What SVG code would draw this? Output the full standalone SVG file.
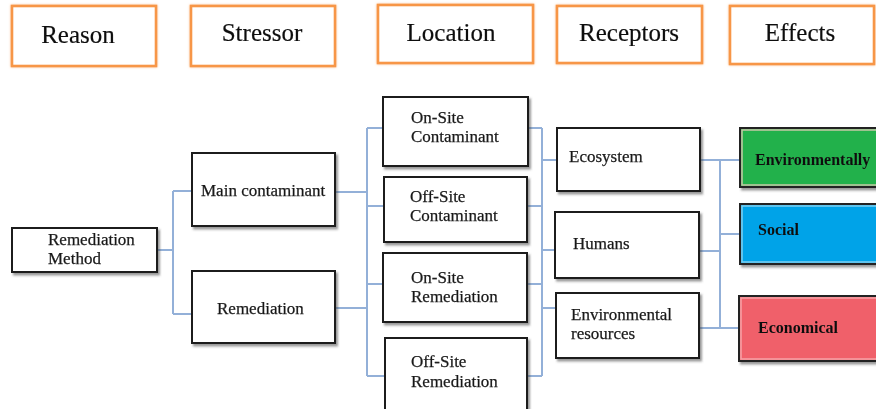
<svg xmlns="http://www.w3.org/2000/svg" width="876" height="409" viewBox="0 0 876 409">
<defs>
<filter id="sh" x="-10%" y="-10%" width="130%" height="140%">
<feDropShadow dx="2" dy="2.5" stdDeviation="1.2" flood-color="#444" flood-opacity="0.55"/>
</filter>
<filter id="glow" x="-10%" y="-10%" width="120%" height="130%">
<feDropShadow dx="0" dy="0" stdDeviation="0.8" flood-color="#f79646" flood-opacity="0.6"/>
</filter>
</defs>
<style>
.hdr rect{fill:#fff;stroke:#f79646;stroke-width:2.6}
.hdr text{font-family:"Liberation Serif","Times New Roman",serif;font-size:25px;fill:#111;text-anchor:middle;stroke:#111;stroke-width:0.2}
.node rect{fill:#fff;stroke:#1a1a1a;stroke-width:2}
.node text{font-family:"Liberation Serif","Times New Roman",serif;font-size:17px;fill:#1a1a1a;stroke:#1a1a1a;stroke-width:0.25}
.eff rect.o{stroke:#222;stroke-width:2}
.eff rect.i{fill:none;stroke-width:1.5}
.eff text{font-family:"Liberation Serif","Times New Roman",serif;font-size:16px;font-weight:bold;fill:#111}
.conn path{fill:none;stroke:#93b0d8;stroke-width:2}
</style>

<g id="headers">
<g id="h-reason" class="hdr" filter="url(#glow)"><rect x="12" y="6" width="144" height="60"/><text x="78" y="43">Reason</text></g>
<g id="h-stressor" class="hdr" filter="url(#glow)"><rect x="191" y="6" width="144" height="60"/><text x="262" y="41">Stressor</text></g>
<g id="h-location" class="hdr" filter="url(#glow)"><rect x="378" y="5" width="155" height="58"/><text x="451" y="41">Location</text></g>
<g id="h-receptors" class="hdr" filter="url(#glow)"><rect x="557" y="6" width="145" height="57"/><text x="629" y="41">Receptors</text></g>
<g id="h-effects" class="hdr" filter="url(#glow)"><rect x="730" y="6" width="144" height="58"/><text x="800" y="41">Effects</text></g>
</g>

<g id="connectors" class="conn">
<path d="M157,250 H173 M173,191 V314 M173,191 H192 M173,314 H192"/>
<path d="M335,192 H367 M335,308 H367 M367,128 V376 M367,128 H383 M367,206 H384 M367,284 H383 M367,376 H385"/>
<path d="M528,128 H542 M527,206 H542 M527,284 H542 M527,376 H542 M542,128 V376 M542,160 H557 M542,250 H555 M542,308 H556"/>
<path d="M700,160 H720 M699,251 H720 M699,328 H720 M720,160 V328 M720,160 H740 M720,234 H740 M720,328 H739"/>
</g>

<g id="n-remediation-method" class="node" filter="url(#sh)"><rect x="12" y="228" width="145" height="44"/><text x="48" y="245">Remediation</text><text x="48" y="264">Method</text></g>
<g id="n-main-contaminant" class="node" filter="url(#sh)"><rect x="192" y="153" width="143" height="73"/><text x="201" y="196">Main contaminant</text></g>
<g id="n-remediation" class="node" filter="url(#sh)"><rect x="192" y="271" width="143" height="72"/><text x="217" y="314">Remediation</text></g>

<g id="n-onsite-contaminant" class="node" filter="url(#sh)"><rect x="383" y="97" width="145" height="69"/><text x="411" y="123">On-Site</text><text x="411" y="142">Contaminant</text></g>
<g id="n-offsite-contaminant" class="node" filter="url(#sh)"><rect x="384" y="177" width="143" height="65"/><text x="410" y="202">Off-Site</text><text x="410" y="221">Contaminant</text></g>
<g id="n-onsite-remediation" class="node" filter="url(#sh)"><rect x="383" y="253" width="144" height="69"/><text x="411" y="283">On-Site</text><text x="411" y="302">Remediation</text></g>
<g id="n-offsite-remediation" class="node" filter="url(#sh)"><rect x="385" y="338" width="142" height="74"/><text x="411" y="367">Off-Site</text><text x="411" y="387">Remediation</text></g>

<g id="n-ecosystem" class="node" filter="url(#sh)"><rect x="557" y="128" width="143" height="63"/><text x="569" y="162">Ecosystem</text></g>
<g id="n-humans" class="node" filter="url(#sh)"><rect x="555" y="212" width="144" height="66"/><text x="573" y="249">Humans</text></g>
<g id="n-env-resources" class="node" filter="url(#sh)"><rect x="556" y="293" width="143" height="65"/><text x="571" y="320">Environmental</text><text x="571" y="339">resources</text></g>

<g id="e-environmentally" class="eff" filter="url(#sh)"><rect class="o" x="740" y="128" width="145" height="59" fill="#23b14c"/><rect class="i" x="742" y="130" width="141" height="55" stroke="#c9c7a6"/><text x="755" y="165">Environmentally</text></g>
<g id="e-social" class="eff" filter="url(#sh)"><rect class="o" x="740" y="204" width="145" height="60" fill="#00a3e8"/><rect class="i" x="742" y="206" width="141" height="56" stroke="#7fcff0"/><text x="758" y="235">Social</text></g>
<g id="e-economical" class="eff" filter="url(#sh)"><rect class="o" x="739" y="296" width="146" height="65" fill="#f0606a"/><rect class="i" x="741" y="298" width="142" height="61" stroke="#f6a3a8"/><text x="758" y="333">Economical</text></g>
</svg>
